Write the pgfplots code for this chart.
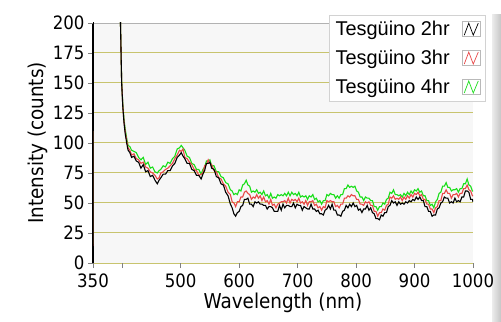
\documentclass[border=0pt]{standalone}
\usepackage{pgfplots}
\pgfplotsset{compat=1.18}
\usepackage{pgfplotstable}
\usepackage{fontspec}
\setmainfont{DejaVu Sans Condensed}
\newfontfamily\legfont{Liberation Sans}
\definecolor{gridol}{RGB}{200,196,110}
\definecolor{bgg}{RGB}{247,247,247}
\definecolor{redl}{RGB}{232,72,72}
\definecolor{greenl}{RGB}{25,222,25}
\pgfplotstableread{
x b r g
350 12 14 16
351 300 300 300
395 300 300 300
397 200 200 200
399 150 151 152
401 130 131 132
403 117 118 120
405 108 110 112
408 99 101 103
410 94 96 98
413 92 94 97
416 88 90 94
420 89 91 93
424 85 87 92
428 84 86 88
432 79 83 86
436 82 84 88
440 76 80 82
444 77 79 84
448 72 76 79
452 73 75 80
456 69 73 76
460 66 70 75
463 69 71 77
466 71 75 78
470 74 76 81
474 74 78 80
478 77 79 84
482 77 81 83
486 81 83 87
490 83 87 89
494 88 90 95
498 90 94 96
501 92 93 98
504 89 95 96
507 87 88 94
511 83 87 89
515 83 84 88
519 78 82 83
523 77 78 82
527 73 77 78
531 73 73 78
535 70 74 74
538 74 75 78
541 77 81 80
544 83 82 85
547 83 86 85
550 84 83 86
553 79 82 81
557 78 77 81
561 72 76 76
565 71 71 76
569 66 70 72
573 65 66 71
577 59 64 67
581 56 59 66
585 49 57 61
588 46 51 60
591 41 50 57
594 39 47 58
597 42 51 57
600 43 51 61
603 47 55 60
606 48 55 65
609 53 59 66
612 53 60 69
615 54 58 65
618 49 57 64
621 49 53 59
624 47 55 60
627 51 54 59
630 50 57 61
633 51 54 58
636 49 56 59
639 49 52 57
642 48 55 60
645 48 51 56
648 45 52 57
651 47 49 54
654 47 53 58
657 46 48 54
660 43 49 55
663 43 46 54
666 43 49 57
669 48 50 56
672 44 51 57
675 49 51 56
678 46 52 58
681 48 50 56
684 48 54 59
687 47 50 56
690 47 53 59
693 50 52 57
696 46 53 58
699 49 51 56
702 48 54 59
705 48 50 55
708 44 51 56
711 47 49 55
714 46 52 56
717 45 48 53
720 45 51 56
723 49 51 55
726 45 52 57
729 45 48 53
732 43 49 54
735 44 46 51
738 41 47 52
741 41 44 49
744 40 47 52
747 44 46 52
750 45 52 57
753 48 51 56
756 45 52 58
759 49 51 57
762 44 51 57
765 44 47 54
768 40 48 56
771 40 46 54
774 39 49 57
777 43 49 57
780 44 54 62
783 48 54 62
786 46 56 65
789 49 55 63
792 47 57 64
795 50 56 63
798 47 56 64
801 48 53 60
804 44 53 59
807 45 49 55
810 42 49 55
813 45 48 52
816 45 51 55
819 48 50 54
822 44 51 54
825 46 48 52
828 42 48 52
831 41 43 47
834 37 43 47
837 37 39 44
840 36 42 47
843 40 42 47
846 39 45 50
849 42 44 49
852 42 48 53
855 47 49 54
858 48 55 59
861 52 54 58
864 50 56 61
867 51 53 57
870 48 54 57
873 51 53 56
876 49 55 57
879 50 52 55
882 49 55 58
885 51 53 56
888 50 56 59
891 52 54 57
894 51 57 60
897 53 55 58
900 52 58 61
903 55 57 60
906 53 59 62
909 55 56 59
912 52 57 60
915 52 53 56
918 47 53 56
921 47 49 52
924 43 49 52
927 43 45 48
930 39 45 49
933 40 42 46
936 40 46 51
939 45 47 53
942 46 52 58
945 50 52 59
948 51 58 64
951 55 58 64
954 54 61 67
957 54 58 63
960 50 58 63
963 51 54 60
966 50 57 61
969 54 57 61
972 51 58 62
975 52 55 59
978 51 58 62
981 55 58 62
984 55 62 66
987 60 62 66
990 60 65 70
993 59 61 65
996 53 60 64
999 53 56 60
1000 51 56 60
}\spectra
\begin{document}
\begin{tikzpicture}
\path[use as bounding box] (0,0) rectangle (501bp,322bp);
\shade[left color=gray!15, right color=gray!45] (492bp,0bp) rectangle (501bp,307bp);
\begin{axis}[
  at={(93bp,59bp)}, anchor=south west,
  scale only axis, width=380bp, height=240bp,
  xmin=350, xmax=1000, ymin=0, ymax=200,
  axis x line=bottom, axis y line=left,
  axis line style={-},
  x axis line style={draw=none},
  y axis line style={black, line width=1.6bp},
  axis background/.style={fill=bgg},
  xtick={350,400,500,600,700,800,900,1000},
  xticklabels={350,,500,600,700,800,900,1000},
  ytick={0,25,...,175},
  extra y ticks={200},
  extra y tick style={major grid style={gray!60, line width=0.8bp}},
  ymajorgrids,
  major grid style={gridol, line width=1bp},
  tick align=outside,
  major tick length=5bp,
  tick style={gray, line width=0.6bp},
  /pgf/number format/assume math mode=true,
  /pgf/number format/set thousands separator={},
  tick label style={font=\fontsize{18.5}{20}\selectfont},
  xticklabel style={yshift=-2bp},
  xlabel={Wavelength (nm)},
  ylabel={Intensity (counts)},
  label style={font=\fontsize{20.5}{22}\selectfont},
  xlabel style={at={(axis description cs:0.5,-0.168)}, anchor=center},
  ylabel style={at={(axis description cs:-0.145,0.5)}, anchor=center},
  legend plot pos=right,
  legend cell align=right,
  reverse legend,
  legend image code/.code={
    \path (0bp,-7.5bp) (28bp,7.5bp);
    \draw[gray!55, line width=0.5bp, fill=white] (10bp,-7.5bp) rectangle (28bp,7.5bp);
    \draw[#1, line width=0.7bp] (12bp,-6bp) -- (16.5bp,6bp) -- (21bp,-6bp) -- (26bp,6bp);
  },
  legend style={at={(axis description cs:1.0316,1.0333)}, anchor=north east,
    draw=gray!35, fill=white, font=\legfont\fontsize{20}{22}\selectfont,
    row sep=9bp, inner xsep=4bp, inner ysep=4bp},
]
\addplot[greenl, line width=1.1bp] table[x=x, y=g] {\spectra};
\addlegendentry{Tesgüino 4hr}
\addplot[redl, line width=1.1bp] table[x=x, y=r] {\spectra};
\addlegendentry{Tesgüino 3hr}
\addplot[black, line width=1.1bp] table[x=x, y=b] {\spectra};
\addlegendentry{Tesgüino 2hr}
\end{axis}
\end{tikzpicture}
\end{document}
